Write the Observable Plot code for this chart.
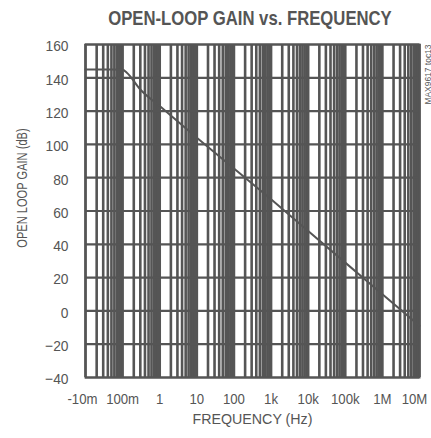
<!DOCTYPE html>
<html>
<head>
<meta charset="utf-8">
<script src="https://cdn.jsdelivr.net/npm/d3@7"></script>
<script src="https://cdn.jsdelivr.net/npm/@observablehq/plot@0.6"></script>
<style>
  body { margin: 0; background: #fff; width: 431px; height: 438px; overflow: hidden; }
  svg { display: block; }
</style>
</head>
<body>
<svg id="title" width="431" height="36">
  <text x="250" y="25" text-anchor="middle" font-family="'Liberation Sans', Arial, sans-serif"
        font-weight="bold" font-size="21" fill="#555" transform="translate(250,0) scale(0.795,1) translate(-250,0)">OPEN-LOOP GAIN vs. FREQUENCY</text>
</svg>
<div id="chart"></div>
<script>
// Open-loop gain curve (frequency in Hz, gain in dB)
const freqs = [0.01, 0.05, 0.1, 0.13, 0.3, 1, 10, 100, 1000, 10000, 100000, 1000000, 10000000];
const gains = [145, 145, 144.8, 143, 133, 123, 104, 85.5, 67, 48, 29, 10, -9];

// Axis ticks
const xTickValues = [0.01, 0.1, 1, 10, 100, 1000, 10000, 100000, 1000000, 10000000];
const xTickLabels = ["-10m", "100m", "1", "10", "100", "1k", "10k", "100k", "1M", "10M"];
const yTicks = [-40, -20, 0, 20, 40, 60, 80, 100, 120, 140, 160];

// Log grid lines: 1..9 within each decade
const decades = [-2, -1, 0, 1, 2, 3, 4, 5, 6];
const multipliers = [1, 2, 3, 4, 5, 6, 7, 8, 9];

const xTitle = "FREQUENCY (Hz)";
const yTitle = "OPEN LOOP GAIN (dB)";
const note = "MAX9617 toc13";

const gridX = decades.flatMap(d => multipliers.map(m => m * Math.pow(10, d))).concat([1e7]);
const curve = freqs.map((f, i) => ({f, g: gains[i]}));
const labelMap = new Map(xTickValues.map((v, i) => [v, xTickLabels[i]]));

const ink = "#555";
const font = "'Liberation Sans', Arial, sans-serif";

const chart = Plot.plot({
  width: 431,
  height: 402,
  marginLeft: 85,
  marginRight: 12,
  marginTop: 8,
  marginBottom: 61,
  style: {fontFamily: font, fontSize: "15px", color: ink, background: "#fff", overflow: "visible"},
  x: {type: "log", domain: [0.01, 1e7]},
  y: {domain: [-40, 160]},
  marks: [
    Plot.ruleX(gridX, {stroke: ink, strokeWidth: 2.6}),
    Plot.ruleY(yTicks, {stroke: ink, strokeWidth: 2.2}),
    Plot.frame({stroke: ink, strokeWidth: 2}),
    Plot.line(curve, {x: "f", y: "g", stroke: ink, strokeWidth: 2, curve: "monotone-x"}),
    Plot.axisX(xTickValues, {tickSize: 0, tickPadding: 16, tickFormat: v => labelMap.get(v),
      fontSize: 15, fill: ink, label: null}),
    Plot.axisY(yTicks, {tickSize: 0, tickPadding: 17, dy: 2, fontSize: 15, fill: ink, label: null}),
    Plot.text([xTitle], {frameAnchor: "bottom", dy: 46, fontSize: 15, fill: ink}),
    Plot.text([yTitle], {frameAnchor: "left", dx: -64, rotate: -90, fontSize: 15, fill: ink}),
    Plot.text([note], {frameAnchor: "top-right", dx: 5, rotate: -90, textAnchor: "end",
      fontSize: 9, fill: ink})
  ]
});
document.getElementById("chart").appendChild(chart);

// Condense a text along its reading direction, keeping its anchor point fixed,
// optionally moving its centre to a target point in page pixels
function squeeze(t, s, anchor, vertical = false, shiftX = 0, target = null) {
  const r = t.getBoundingClientRect();
  let ax = (r.left + r.right) / 2, ay = (r.top + r.bottom) / 2;
  if (!vertical) {
    if (anchor === "end") ax = r.right;
    else if (anchor === "start") ax = r.left;
  } else {
    if (anchor === "end") ay = r.top;
    else if (anchor === "start") ay = r.bottom;
  }
  const m = t.parentNode.getScreenCTM().inverse();
  const p = new DOMPoint(ax, ay).matrixTransform(m);
  let mx = shiftX, my = 0;
  if (target) {
    const q = new DOMPoint(target[0], target[1]).matrixTransform(m);
    mx = q.x - p.x; my = q.y - p.y;
  }
  const tr = t.getAttribute("transform") || "";
  const sc = vertical ? `scale(1,${s})` : `scale(${s},1)`;
  t.setAttribute("transform",
    `translate(${mx},${my}) translate(${p.x},${p.y}) ${sc} translate(${-p.x},${-p.y}) ${tr}`);
}
chart.querySelectorAll('g[aria-label="x-axis tick label"] text').forEach(t =>
  squeeze(t, 0.88, "middle", false, t.textContent === "10M" ? -5 : (t.textContent === "-10m" ? -3 : 0)));
chart.querySelectorAll('g[aria-label="y-axis tick label"] text').forEach(t => squeeze(t, 0.92, "end"));
chart.querySelectorAll('text').forEach(t => {
  if (t.textContent === xTitle) squeeze(t, 0.95, "middle");
  else if (t.textContent === yTitle) squeeze(t, 0.74, "middle", true, 0, [21, 188]);
  else if (t.textContent === note) squeeze(t, 0.94, "end", true);
});
</script>
</body>
</html>
